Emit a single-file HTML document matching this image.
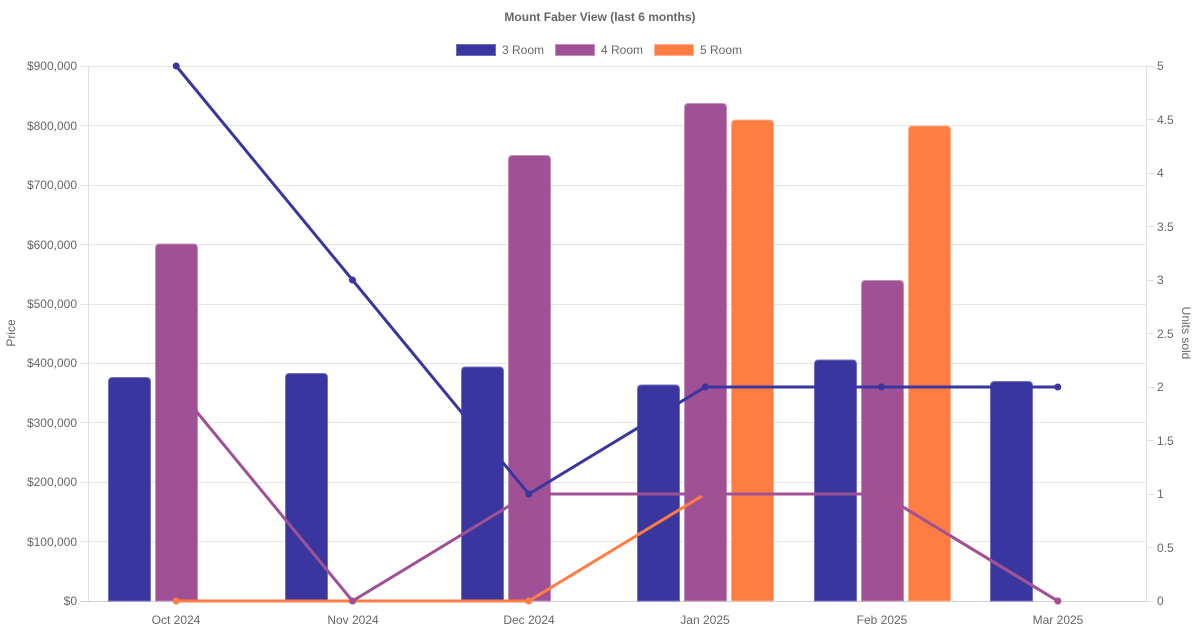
<!DOCTYPE html>
<html>
<head>
<meta charset="utf-8">
<style>
html,body{margin:0;padding:0;background:#fff;}
svg{display:block;}
text{font-family:"Liberation Sans",Arial,sans-serif;}
</style>
</head>
<body>
<svg width="1200" height="630" viewBox="0 0 1200 630" xmlns="http://www.w3.org/2000/svg">
  <rect width="1200" height="630" fill="#fff"/>
  <!-- Title -->
  <text x="600" y="21" text-anchor="middle" font-size="12" font-weight="bold" fill="#666">Mount Faber View (last 6 months)</text>
  <!-- Legend -->
  <rect x="456.5" y="44.5" width="39" height="11" fill="#3936a0" stroke="#6f6cc0" stroke-width="1"/>
  <text x="502" y="54" font-size="12" fill="#666">3 Room</text>
  <rect x="555.5" y="44.5" width="39" height="11" fill="#a05195" stroke="#c48dba" stroke-width="1"/>
  <text x="601" y="54" font-size="12" fill="#666">4 Room</text>
  <rect x="654.5" y="44.5" width="39" height="11" fill="#ff7c43" stroke="#ffb08e" stroke-width="1"/>
  <text x="700" y="54" font-size="12" fill="#666">5 Room</text>

  <!-- Gridlines (left axis) -->
  <g stroke="#e5e5e5" stroke-width="1">
    <line x1="80" y1="66.5" x2="1146" y2="66.5"/>
    <line x1="80" y1="125.5" x2="1146" y2="125.5"/>
    <line x1="80" y1="185.5" x2="1146" y2="185.5"/>
    <line x1="80" y1="244.5" x2="1146" y2="244.5"/>
    <line x1="80" y1="304.5" x2="1146" y2="304.5"/>
    <line x1="80" y1="363.5" x2="1146" y2="363.5"/>
    <line x1="80" y1="422.5" x2="1146" y2="422.5"/>
    <line x1="80" y1="482.5" x2="1146" y2="482.5"/>
    <line x1="80" y1="541.5" x2="1146" y2="541.5"/>
  </g>
  <!-- Axes -->
  <line x1="88.5" y1="66" x2="88.5" y2="601" stroke="#e0e0e0" stroke-width="1"/>
  <line x1="1146.5" y1="66" x2="1146.5" y2="601" stroke="#e0e0e0" stroke-width="1"/>
  <line x1="80" y1="601.5" x2="1146" y2="601.5" stroke="#cfcfcf" stroke-width="1"/>
  <!-- Right ticks -->
  <g stroke="#e0e0e0" stroke-width="1">
    <line x1="1146" y1="66.5" x2="1154" y2="66.5"/>
    <line x1="1146" y1="119.5" x2="1154" y2="119.5"/>
    <line x1="1146" y1="173.5" x2="1154" y2="173.5"/>
    <line x1="1146" y1="226.5" x2="1154" y2="226.5"/>
    <line x1="1146" y1="280.5" x2="1154" y2="280.5"/>
    <line x1="1146" y1="333.5" x2="1154" y2="333.5"/>
    <line x1="1146" y1="387.5" x2="1154" y2="387.5"/>
    <line x1="1146" y1="440.5" x2="1154" y2="440.5"/>
    <line x1="1146" y1="494.5" x2="1154" y2="494.5"/>
    <line x1="1146" y1="547.5" x2="1154" y2="547.5"/>
    <line x1="1146" y1="601.5" x2="1154" y2="601.5"/>
  </g>

  <!-- Left tick labels -->
  <g font-size="12" fill="#666" text-anchor="end">
    <text x="77" y="70">$900,000</text>
    <text x="77" y="130">$800,000</text>
    <text x="77" y="189">$700,000</text>
    <text x="77" y="249">$600,000</text>
    <text x="77" y="308">$500,000</text>
    <text x="77" y="367">$400,000</text>
    <text x="77" y="427">$300,000</text>
    <text x="77" y="486">$200,000</text>
    <text x="77" y="546">$100,000</text>
    <text x="77" y="605">$0</text>
  </g>
  <!-- Right tick labels -->
  <g font-size="12" fill="#666">
    <text x="1157" y="70">5</text>
    <text x="1157" y="124">4.5</text>
    <text x="1157" y="177">4</text>
    <text x="1157" y="231">3.5</text>
    <text x="1157" y="284">3</text>
    <text x="1157" y="338">2.5</text>
    <text x="1157" y="391">2</text>
    <text x="1157" y="445">1.5</text>
    <text x="1157" y="498">1</text>
    <text x="1157" y="552">0.5</text>
    <text x="1157" y="605">0</text>
  </g>
  <!-- X labels -->
  <g font-size="12" fill="#666" text-anchor="middle">
    <text x="176" y="624">Oct 2024</text>
    <text x="353" y="624">Nov 2024</text>
    <text x="529" y="624">Dec 2024</text>
    <text x="705" y="624">Jan 2025</text>
    <text x="882" y="624">Feb 2025</text>
    <text x="1058" y="624">Mar 2025</text>
  </g>
  <!-- Axis titles -->
  <text x="0" y="0" font-size="12" fill="#666" text-anchor="middle" transform="translate(15,333) rotate(-90)">Price</text>
  <text x="0" y="0" font-size="12" fill="#666" text-anchor="middle" transform="translate(1182,333) rotate(90)">Units sold</text>

  <!-- 4 Room bars -->
  <g fill="#a05195" stroke="#c48dba" stroke-width="1">
    <path d="M155.5,601 V248 Q155.5,244 159.5,244 H193.5 Q197.5,244 197.5,248 V601 Z"/>
    <path d="M508.5,601 V159.5 Q508.5,155.5 512.5,155.5 H546.5 Q550.5,155.5 550.5,159.5 V601 Z"/>
    <path d="M684.5,601 V107.5 Q684.5,103.5 688.5,103.5 H722.5 Q726.5,103.5 726.5,107.5 V601 Z"/>
    <path d="M861.5,601 V284.5 Q861.5,280.5 865.5,280.5 H899.5 Q903.5,280.5 903.5,284.5 V601 Z"/>
  </g>
  <!-- 5 Room bars -->
  <g fill="#ff7c43" stroke="#ffb08e" stroke-width="1">
    <path d="M731.5,601 V124 Q731.5,120 735.5,120 H769.5 Q773.5,120 773.5,124 V601 Z"/>
    <path d="M908.5,601 V130 Q908.5,126 912.5,126 H946.5 Q950.5,126 950.5,130 V601 Z"/>
  </g>
  <!-- 3 Room bars -->
  <g fill="#3936a0" stroke="#7471c4" stroke-width="1">
    <path d="M108.5,601 V381.5 Q108.5,377.5 112.5,377.5 H146.5 Q150.5,377.5 150.5,381.5 V601 Z"/>
    <path d="M285.5,601 V377.5 Q285.5,373.5 289.5,373.5 H323.5 Q327.5,373.5 327.5,377.5 V601 Z"/>
    <path d="M461.5,601 V371 Q461.5,367 465.5,367 H499.5 Q503.5,367 503.5,371 V601 Z"/>
    <path d="M637.5,601 V389 Q637.5,385 641.5,385 H675.5 Q679.5,385 679.5,389 V601 Z"/>
    <path d="M814.5,601 V364 Q814.5,360 818.5,360 H852.5 Q856.5,360 856.5,364 V601 Z"/>
    <path d="M990.5,601 V385.5 Q990.5,381.5 994.5,381.5 H1028.5 Q1032.5,381.5 1032.5,385.5 V601 Z"/>
  </g>

  <!-- 5 Room line -->
  <polyline points="176.2,601 352.5,601 528.8,601 705.2,494 881.5,494 1057.8,601" fill="none" stroke="#ff7c43" stroke-width="3" stroke-linejoin="round"/>
  <g fill="#ff7c43">
    <circle cx="176.2" cy="601" r="3.5"/>
    <circle cx="352.5" cy="601" r="3.5"/>
    <circle cx="528.8" cy="601" r="3.5"/>
    <circle cx="705.2" cy="494" r="3.5"/>
    <circle cx="881.5" cy="494" r="3.5"/>
    <circle cx="1057.8" cy="601" r="3.5"/>
  </g>

  <!-- 4 Room line -->
  <polyline points="176.2,387 352.5,601 528.8,494 705.2,494 881.5,494 1057.8,601" fill="none" stroke="#a05195" stroke-width="3" stroke-linejoin="round"/>
  <g fill="#a05195">
    <circle cx="176.2" cy="387" r="3.5"/>
    <circle cx="352.5" cy="601" r="3.5"/>
    <circle cx="528.8" cy="494" r="3.5"/>
    <circle cx="705.2" cy="494" r="3.5"/>
    <circle cx="881.5" cy="494" r="3.5"/>
    <circle cx="1057.8" cy="601" r="3.5"/>
  </g>

  <!-- 3 Room line -->
  <polyline points="176.2,66 352.5,280 528.8,494 705.2,387 881.5,387 1057.8,387" fill="none" stroke="#3936a0" stroke-width="3" stroke-linejoin="round"/>
  <g fill="#3936a0">
    <circle cx="176.2" cy="66" r="3.5"/>
    <circle cx="352.5" cy="280" r="3.5"/>
    <circle cx="528.8" cy="494" r="3.5"/>
    <circle cx="705.2" cy="387" r="3.5"/>
    <circle cx="881.5" cy="387" r="3.5"/>
    <circle cx="1057.8" cy="387" r="3.5"/>
  </g>
</svg>
</body>
</html>
